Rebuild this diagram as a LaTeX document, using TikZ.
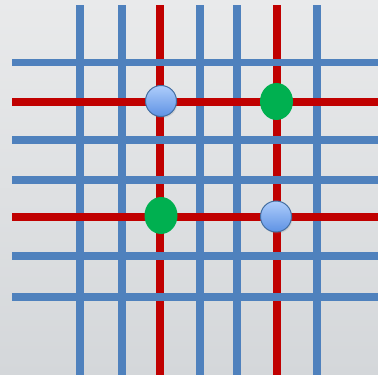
\documentclass[tikz,border=0pt]{standalone}
\usetikzlibrary{shadows,shapes.geometric}
\definecolor{gridblue}{HTML}{4F81BD}
\definecolor{gridred}{HTML}{C00000}
\definecolor{dotgreen}{HTML}{00B050}
\definecolor{bgtop}{HTML}{E9EAEB}
\definecolor{bgbot}{HTML}{D4D7DA}
\definecolor{dottop}{HTML}{AECDFB}
\definecolor{dotbot}{HTML}{5E92E4}
\tikzset{
  bar/.style={line width=7.5pt},
  bluedot/.style={circle, minimum size=31pt, inner sep=0pt, draw=gridblue!85!black,
    line width=1pt, top color=dottop, bottom color=dotbot,
    drop shadow={opacity=0.2, shadow xshift=1pt, shadow yshift=-1.5pt}},
  greendot/.style={ellipse, minimum width=33pt, minimum height=37pt, inner sep=0pt,
    fill=dotgreen}
}
\begin{document}
\begin{tikzpicture}[x=1pt,y=1pt]
			\shade[top color=bgtop, bottom color=bgbot] (0,0) rectangle (378,375);
			\useasboundingbox (0,0) rectangle (378,375);
			% columns
			\foreach \x in {80,122,200,237,317}
				\draw [bar, gridblue] (\x,0) -- (\x,370);
			\foreach \x in {160,277}
				\draw [bar, gridred] (\x,0) -- (\x,370);
			% rows
			\foreach \y in {312.5,235,195,119,78}
				\draw [bar, gridblue] (12,\y) -- (378,\y);
			\foreach \y in {273,158}
				\draw [bar, gridred] (12,\y) -- (378,\y);
			% crossings
			\node [bluedot] (b1) at (161,274) {};
			\node [greendot] (g1) at (276.5,273.5) {};
			\node [greendot] (g2) at (161,159.5) {};
			\node [bluedot] (b2) at (276,158.5) {};
		\end{tikzpicture}
\end{document}
